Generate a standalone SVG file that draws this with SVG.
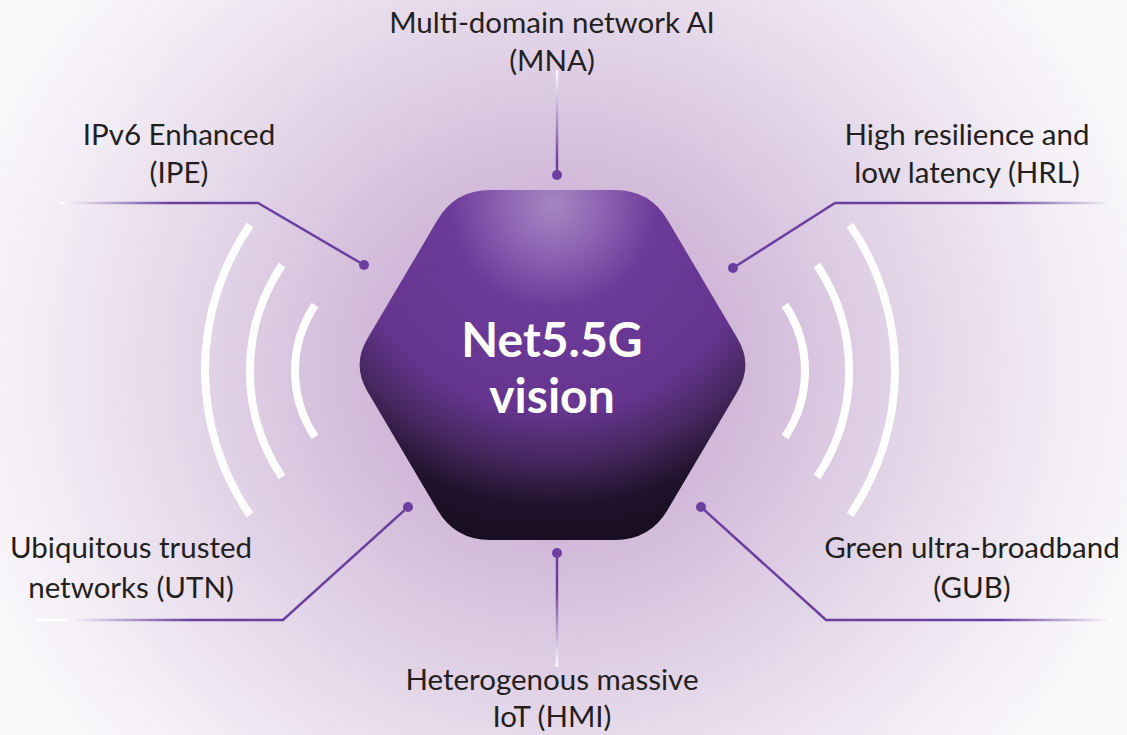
<svg xmlns="http://www.w3.org/2000/svg" width="1127" height="735" viewBox="0 0 1127 735">
  <defs>
    <radialGradient id="bg" gradientUnits="userSpaceOnUse" cx="553" cy="365" r="620" gradientTransform="translate(553 365) scale(1 0.95) translate(-553 -365)">
      <stop offset="0" stop-color="#c9a9d2"/>
      <stop offset="0.3" stop-color="#d2b9d9"/>
      <stop offset="0.6" stop-color="#e4d7e9"/>
      <stop offset="0.85" stop-color="#f3eef5"/>
      <stop offset="1" stop-color="#faf8fb"/>
    </radialGradient>
    <radialGradient id="hexFill" gradientUnits="userSpaceOnUse" cx="553" cy="205" r="345">
      <stop offset="0" stop-color="#a586c2"/>
      <stop offset="0.14" stop-color="#8e64b3"/>
      <stop offset="0.3" stop-color="#6c3a99"/>
      <stop offset="0.6" stop-color="#65358f"/>
      <stop offset="0.74" stop-color="#46275f"/>
      <stop offset="0.87" stop-color="#21122c"/>
      <stop offset="1" stop-color="#170d20"/>
    </radialGradient>
    <linearGradient id="fadeL1" gradientUnits="userSpaceOnUse" x1="60" y1="0" x2="170" y2="0">
      <stop offset="0" stop-color="#ffffff"/>
      <stop offset="1" stop-color="#6b3fa0"/>
    </linearGradient>
    <linearGradient id="fadeL2" gradientUnits="userSpaceOnUse" x1="40" y1="0" x2="190" y2="0">
      <stop offset="0" stop-color="#ffffff"/>
      <stop offset="0.15" stop-color="#ffffff"/>
      <stop offset="1" stop-color="#6b3fa0"/>
    </linearGradient>
    <linearGradient id="fadeR1" gradientUnits="userSpaceOnUse" x1="1118" y1="0" x2="1000" y2="0">
      <stop offset="0" stop-color="#ffffff"/>
      <stop offset="1" stop-color="#6b3fa0"/>
    </linearGradient>
    <linearGradient id="fadeR2" gradientUnits="userSpaceOnUse" x1="1113" y1="0" x2="1000" y2="0">
      <stop offset="0" stop-color="#ffffff"/>
      <stop offset="1" stop-color="#6b3fa0"/>
    </linearGradient>
    <linearGradient id="fadeTop" gradientUnits="userSpaceOnUse" x1="0" y1="70" x2="0" y2="160">
      <stop offset="0" stop-color="#ffffff"/>
      <stop offset="1" stop-color="#6b3fa0"/>
    </linearGradient>
    <linearGradient id="fadeBottom" gradientUnits="userSpaceOnUse" x1="0" y1="667" x2="0" y2="590">
      <stop offset="0" stop-color="#ffffff"/>
      <stop offset="1" stop-color="#6b3fa0"/>
    </linearGradient>
    <style>
      .label { font-family: "Lato", "Liberation Sans", sans-serif; font-size: 29.5px; fill: #231f20; text-anchor: middle; }
      .title { font-family: "Lato", "Liberation Sans", sans-serif; font-size: 48px; font-weight: bold; fill: #ffffff; text-anchor: middle; }
      .wire { fill: none; stroke-width: 2.5; }
      .dot { fill: #6b3fa0; }
      .wave { fill: none; stroke: #ffffff; stroke-width: 8; }
    </style>
  </defs>

  <!-- soft purple backdrop -->
  <rect x="0" y="0" width="1127" height="735" fill="url(#bg)"/>

  <!-- signal waves either side of the hub -->
  <g id="waves">
    <path class="wave" d="M250,225 A256,256 0 0 0 250,515"/>
    <path class="wave" d="M282,265 A191,191 0 0 0 282,477"/>
    <path class="wave" d="M315,305 A119,119 0 0 0 315,437"/>
    <path class="wave" d="M850,225 A256,256 0 0 1 850,515"/>
    <path class="wave" d="M817,265 A191,191 0 0 1 817,477"/>
    <path class="wave" d="M785,305 A119,119 0 0 1 785,437"/>
  </g>

  <!-- connectors from the hub to each capability -->
  <g id="connectors">
    <path class="wire" stroke="url(#fadeTop)" d="M557,70 L557,175"/>
    <circle class="dot" cx="557" cy="175" r="5"/>
    <path class="wire" stroke="url(#fadeL1)" d="M60,203 L258,203 L364,265"/>
    <circle class="dot" cx="364" cy="265" r="5"/>
    <path class="wire" stroke="url(#fadeR1)" d="M1118,203 L835,203 L733,268"/>
    <circle class="dot" cx="733" cy="268" r="5"/>
    <path class="wire" stroke="url(#fadeL2)" d="M36,620 L283,620 L408,507"/>
    <circle class="dot" cx="408" cy="507" r="5"/>
    <path class="wire" stroke="url(#fadeR2)" d="M1113,620 L826,620 L701,507"/>
    <circle class="dot" cx="701" cy="507" r="5"/>
    <path class="wire" stroke="url(#fadeBottom)" d="M557,553 L557,667"/>
    <circle class="dot" cx="557" cy="553" r="5"/>
  </g>

  <!-- central hub -->
  <g id="hub">
    <path fill="url(#hexFill)" d="M490,190 L615,190 Q650,190 667.7,220.2 L737.8,339.1 Q753,365 737.8,390.9 L667.7,509.8 Q650,540 615,540 L490,540 Q455,540 437.3,509.8 L367.2,390.9 Q352,365 367.2,339.1 L437.3,220.2 Q455,190 490,190 Z"/>
    <text class="title" x="552" y="357">Net5.5G</text>
    <text class="title" x="552" y="413">vision</text>
  </g>

  <g id="node-mna">
    <text class="label" x="552" y="33">Multi-domain network AI</text>
    <text class="label" x="552" y="71">(MNA)</text>
  </g>
  <g id="node-ipe">
    <text class="label" x="179" y="145">IPv6 Enhanced</text>
    <text class="label" x="179" y="183">(IPE)</text>
  </g>
  <g id="node-hrl">
    <text class="label" x="967" y="145">High resilience and</text>
    <text class="label" x="967" y="183">low latency (HRL)</text>
  </g>
  <g id="node-utn">
    <text class="label" x="131" y="558">Ubiquitous trusted</text>
    <text class="label" x="131" y="598">networks (UTN)</text>
  </g>
  <g id="node-gub">
    <text class="label" x="972" y="558">Green ultra-broadband</text>
    <text class="label" x="972" y="598">(GUB)</text>
  </g>
  <g id="node-hmi">
    <text class="label" x="552" y="690">Heterogenous massive</text>
    <text class="label" x="552" y="727">IoT (HMI)</text>
  </g>
</svg>
